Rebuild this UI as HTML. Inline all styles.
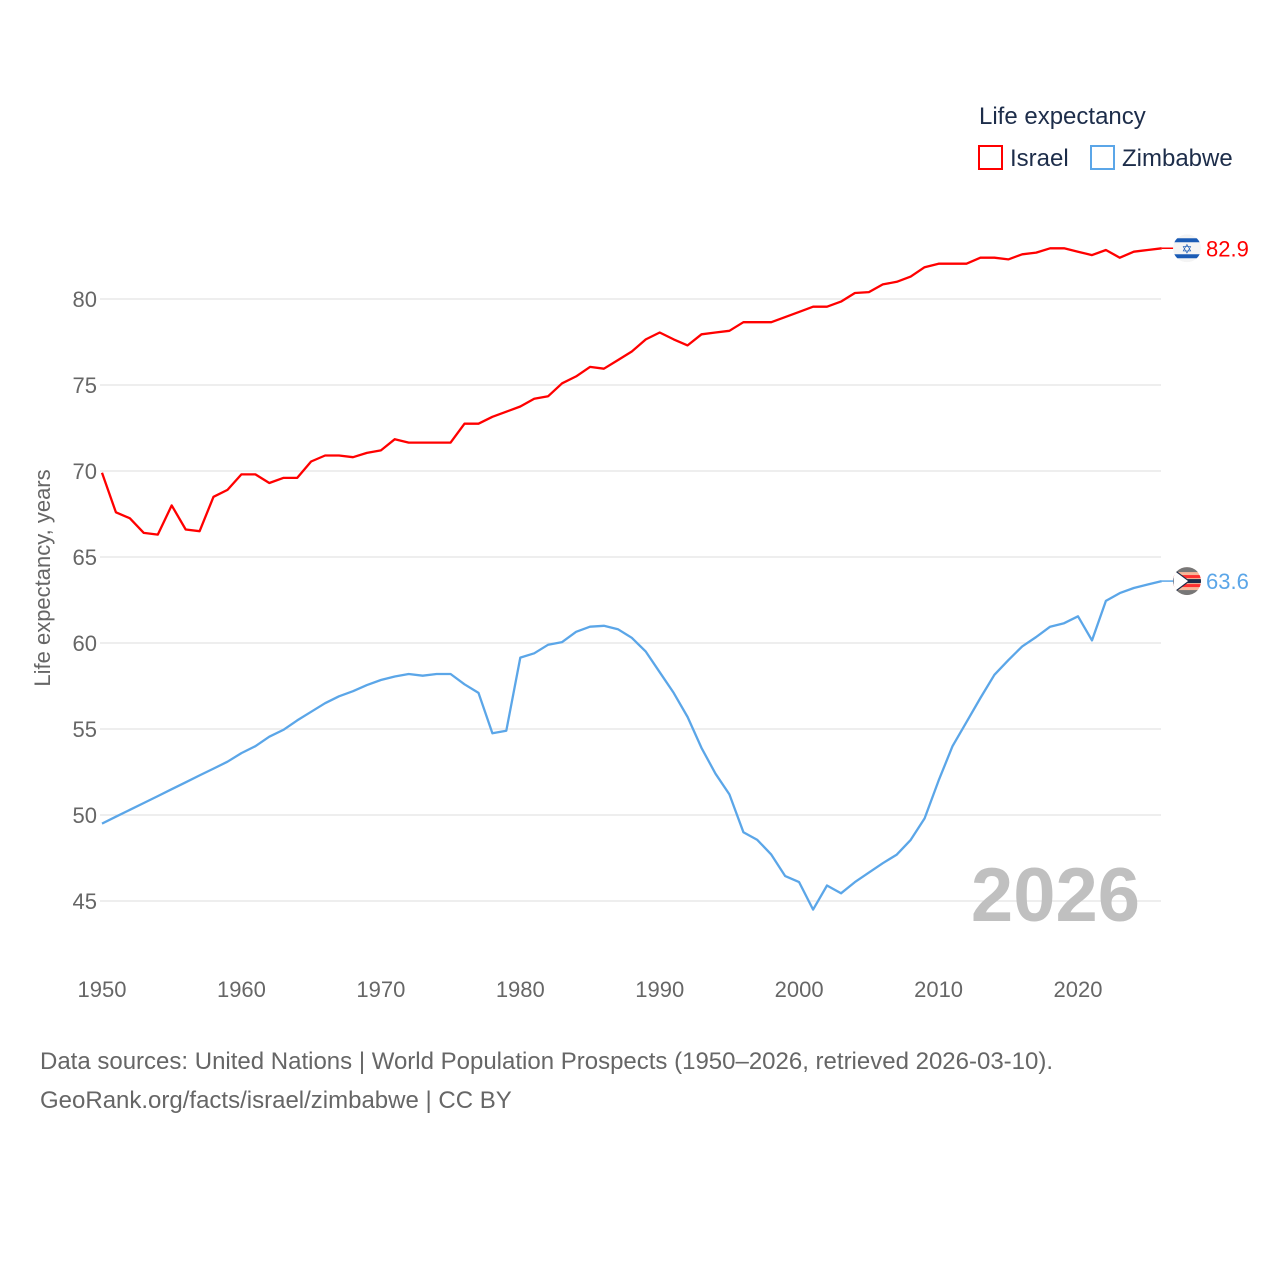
<!DOCTYPE html>
<html><head><meta charset="utf-8"><style>
html,body{margin:0;padding:0;background:#fff;}
body{width:1280px;height:1280px;overflow:hidden;font-family:"Liberation Sans",sans-serif;}
</style></head><body>
<svg id="chart" width="1280" height="1280" viewBox="0 0 1280 1280" xmlns="http://www.w3.org/2000/svg" font-family="Liberation Sans, sans-serif">
<defs id="defs"></defs>
<g id="grid"></g>
<g id="yticks"></g>
<g id="xticks"></g>
<text transform="translate(50,578) rotate(-90)" text-anchor="middle" font-size="22" fill="#666">Life expectancy, years</text>
<text x="1140" y="921" text-anchor="end" font-size="76" font-weight="bold" fill="#c0c0c0">2026</text>
<g id="series"></g>
<g>
<text x="979" y="124" font-size="24" fill="#1d2d4a">Life expectancy</text>
<rect x="979" y="146" width="23" height="23" fill="none" stroke="#ff0000" stroke-width="2"/>
<text x="1010" y="166" font-size="24" fill="#1d2d4a">Israel</text>
<rect x="1091" y="146" width="23" height="23" fill="none" stroke="#5ba6e8" stroke-width="2"/>
<text x="1122" y="166" font-size="24" fill="#1d2d4a">Zimbabwe</text>
</g>
<text x="40" y="1069" font-size="24" fill="#666">Data sources: United Nations | World Population Prospects (1950–2026, retrieved 2026-03-10).</text>
<text x="40" y="1108" font-size="24" fill="#666">GeoRank.org/facts/israel/zimbabwe | CC BY</text>
</svg>
<script>
const years = [];
for (let y = 1950; y <= 2026; y++) years.push(y);
const israel = [69.9,67.6,67.25,66.4,66.3,68.0,66.6,66.5,68.5,68.9,69.8,69.8,69.3,69.6,69.6,70.55,70.9,70.9,70.8,71.05,71.2,71.85,71.65,71.65,71.65,71.65,72.75,72.75,73.15,73.45,73.75,74.2,74.35,75.1,75.5,76.05,75.95,76.45,76.95,77.65,78.05,77.65,77.3,77.95,78.05,78.15,78.65,78.65,78.65,78.95,79.25,79.55,79.55,79.85,80.35,80.4,80.85,81.0,81.3,81.85,82.05,82.05,82.05,82.4,82.4,82.3,82.6,82.7,82.95,82.95,82.75,82.55,82.85,82.4,82.75,82.85,82.95];
const zimbabwe = [49.5,49.9,50.3,50.7,51.1,51.5,51.9,52.3,52.7,53.1,53.6,54.0,54.55,54.95,55.5,56.0,56.5,56.9,57.2,57.55,57.85,58.05,58.2,58.1,58.2,58.2,57.6,57.1,54.75,54.9,59.15,59.4,59.9,60.05,60.65,60.95,61.0,60.8,60.3,59.5,58.3,57.1,55.7,53.9,52.4,51.2,49.0,48.55,47.7,46.45,46.1,44.5,45.9,45.45,46.1,46.65,47.2,47.7,48.55,49.8,52.0,54.0,55.4,56.8,58.15,59.0,59.8,60.35,60.95,61.15,61.55,60.15,62.45,62.9,63.2,63.4,63.6];
const yTicks = [45,50,55,60,65,70,75,80];
const xTicks = [1950,1960,1970,1980,1990,2000,2010,2020];
const endLabels = ["82.9","63.6"];

const NS = "http://www.w3.org/2000/svg";
const xs = y => 102 + (y - 1950) * 13.943;
const ys = v => 299 + (80 - v) * 17.2;
function mk(tag, attrs, parent){const e=document.createElementNS(NS,tag);for(const k in attrs)e.setAttribute(k,attrs[k]);parent.appendChild(e);return e;}

const grid=document.getElementById('grid'), yt=document.getElementById('yticks'), xt=document.getElementById('xticks'), ser=document.getElementById('series'), defs=document.getElementById('defs');
yTicks.forEach(v=>{
  const l=mk('line',{x1:100,x2:1161,y1:ys(v),y2:ys(v),stroke:'#e3e3e3','stroke-width':1.3},grid);
  
  
  const t=mk('text',{x:97,y:ys(v)+8,'text-anchor':'end','font-size':22,fill:'#666'},yt);
  t.textContent=v;
  
  
});
xTicks.forEach(y=>{
  const t=mk('text',{x:xs(y),y:997,'text-anchor':'middle','font-size':22,fill:'#666'},xt);
  t.textContent=y;
  
  
});
function drawSeries(vals,color,name,label,flag){
  const d=vals.map((v,i)=>(i?'L':'M')+xs(years[i]).toFixed(1)+','+ys(v).toFixed(1)).join(' ');
  const p=mk('path',{d:d,fill:'none',stroke:color,'stroke-width':2.3,'stroke-linejoin':'round'},ser);
  
  
  const last=vals[vals.length-1], ly=ys(last), lx=xs(years[years.length-1]);
  const c=mk('line',{x1:lx,x2:1174,y1:ly,y2:ly,stroke:color,'stroke-width':1.5},ser);
  
  
  const cp=mk('clipPath',{id:'clip-'+name},defs);
  mk('circle',{cx:1187,cy:ly,r:14},cp);
  const g=mk('g',{'clip-path':'url(#clip-'+name+')'},ser);
  
  
  flag(g,1187,ly);
  const t=mk('text',{x:1206,y:ly+8,'font-size':22,fill:color},ser);
  t.textContent=label;
  
  
}
drawSeries(israel,'#ff0000','israel',endLabels[0],(g,cx,cy)=>{
  mk('circle',{cx:cx,cy:cy,r:14,fill:'#f4f4f4'},g);
  mk('rect',{x:cx-14,y:cy-10,width:28,height:4,fill:'#1a5bb5'},g);
  mk('rect',{x:cx-14,y:cy+6,width:28,height:4,fill:'#1a5bb5'},g);
  const s=mk('text',{x:cx,y:cy+5,'text-anchor':'middle','font-size':13,fill:'#1a5bb5'},g);
  s.textContent='✡';
});
drawSeries(zimbabwe,'#5ba6e8','zimbabwe',endLabels[1],(g,cx,cy)=>{
  mk('circle',{cx:cx,cy:cy,r:14,fill:'#f7b79a'},g);
  mk('rect',{x:cx-14,y:cy-14,width:28,height:5,fill:'#777'},g);
  mk('rect',{x:cx-14,y:cy+9,width:28,height:5,fill:'#777'},g);
  mk('rect',{x:cx-14,y:cy-6,width:28,height:3,fill:'#ff3030'},g);
  mk('rect',{x:cx-14,y:cy+3,width:28,height:3,fill:'#ff3030'},g);
  mk('rect',{x:cx-14,y:cy-2,width:28,height:4,fill:'#1d2d4a'},g);
  mk('path',{d:`M${cx-14},${cy-12} L${cx+2},${cy} L${cx-14},${cy+12} Z`,fill:'#fff',stroke:'#1d2d4a','stroke-width':1.2},g);
});
</script>
</body></html>
